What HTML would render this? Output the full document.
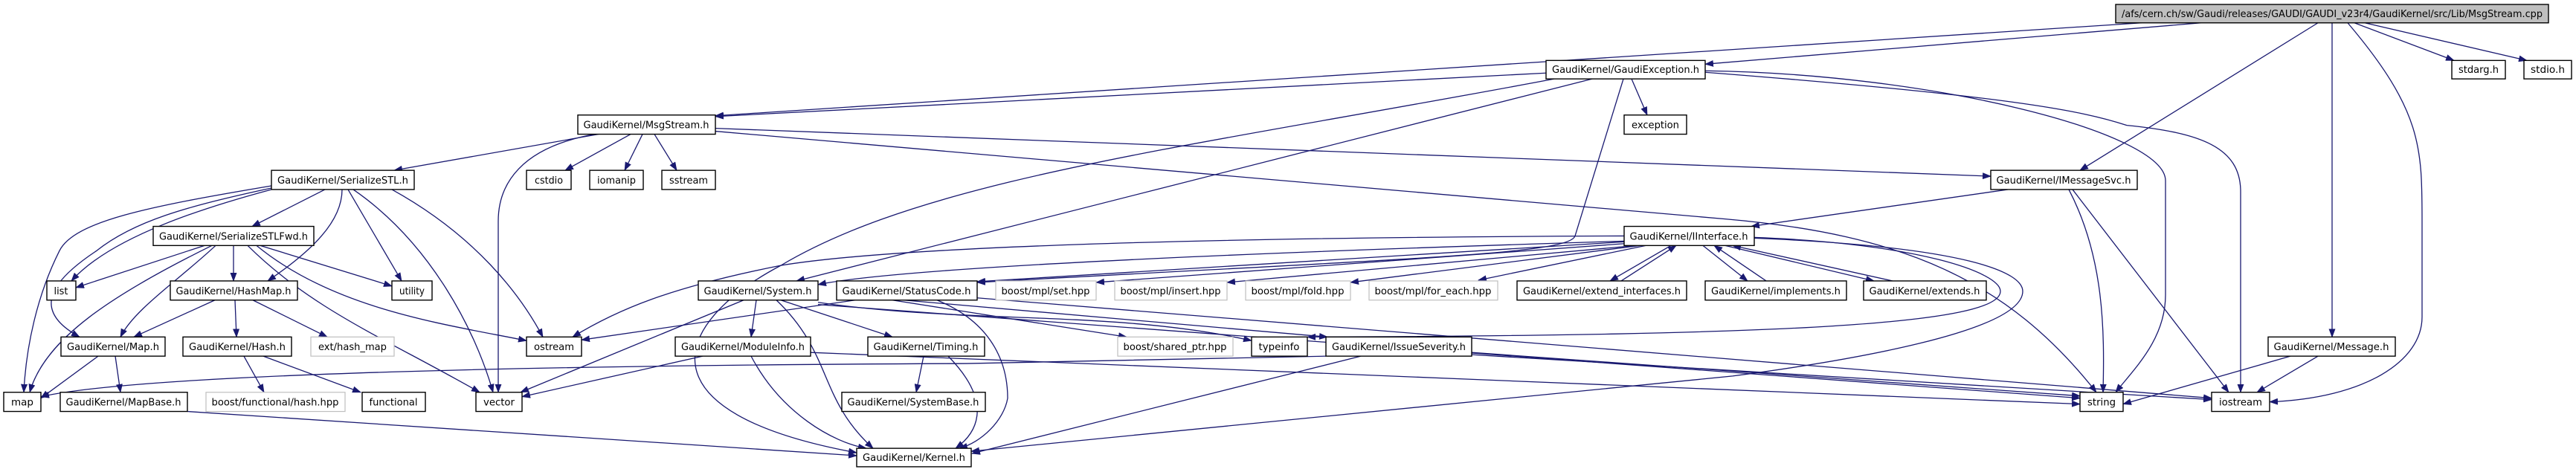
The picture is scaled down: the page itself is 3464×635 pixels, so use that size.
<!DOCTYPE html>
<html><head><meta charset="utf-8"><style>
html,body{margin:0;padding:0;background:#fff;}
svg{display:block;}
text{font-family:"DejaVu Sans","Liberation Sans",sans-serif;font-size:13px;fill:#000;}
.e{fill:none;stroke:#191970;stroke-width:1.3;}
.n{fill:#fff;stroke:#000;stroke-width:1.4;}
.g{fill:#fff;stroke:#bfbfbf;stroke-width:1.2;}
</style></head><body>
<svg width="3464" height="635" viewBox="0 0 3464 635" xmlns="http://www.w3.org/2000/svg">
<defs>
<marker id="a" markerWidth="12" markerHeight="9" refX="11" refY="4.5" orient="auto" markerUnits="userSpaceOnUse">
<path d="M0,0 L12,4.5 L0,9 Z" fill="#191970"/></marker>
</defs>
<g transform="scale(1,0.992)">
<g class="e" marker-end="url(#a)">
<!-- cpp -->
<path d="M2960,31 L2293,87"/>
<path d="M2880,31 L962,157"/>
<path d="M3117,31 L2797,231"/>
<path d="M3136,31 L3136,457"/>
<path d="M3157,31 C3257,150 3257,200 3257,300 L3257,430 C3257,490 3180,540 3052,545"/>
<path d="M3166,31 L3300,82"/>
<path d="M3180,31 L3398,82"/>
<!-- GaudiException -->
<path d="M2079,99 L962,158"/>
<path d="M2194,107 L2215,156"/>
<path d="M2293,96 C2600,100 2912,180 2912,245 L2912,400 C2912,460 2870,500 2845,532"/>
<path d="M2293,98 C2700,130 2800,150 2860,170 C2960,180 3013,200 3013,260 L3013,532"/>
<path d="M2090,107 C1600,200 1250,240 1050,360 C900,440 860,560 1152,614"/>
<path d="M2141,107 L1071,381"/>
<path d="M2183,107 L2118,320 C2110,345 1900,350 1314,383"/>
<!-- MsgStream -->
<path d="M805,182 L530,231"/>
<path d="M848,182 L760,231"/>
<path d="M864,182 L840,231"/>
<path d="M880,182 L910,231"/>
<path d="M800,182 C700,200 670,250 670,300 L670,532"/>
<path d="M962,174 L2677,239"/>
<path d="M962,178 L2320,297 C2560,318 2700,380 2819,532"/>
<!-- SerializeSTL -->
<path d="M365,252 C200,280 100,300 80,340 C50,400 35,470 32,532"/>
<path d="M365,255 C250,280 180,300 130,340 C70,380 40,420 107,457"/>
<path d="M365,257 C280,280 150,320 96,381"/>
<path d="M437,257 L339,307"/>
<path d="M460,257 C460,300 420,340 360,381"/>
<path d="M468,257 L540,381"/>
<path d="M475,257 C580,330 640,450 663,532"/>
<path d="M527,257 C640,320 700,400 730,457"/>
<!-- SerializeSTLFwd -->
<path d="M275,333 L102,390"/>
<path d="M285,333 C150,400 60,460 40,532"/>
<path d="M290,333 C240,380 180,420 162,457"/>
<path d="M314,333 L314,381"/>
<path d="M350,333 L527,388"/>
<path d="M333,333 C420,420 520,460 645,532"/>
<path d="M345,333 C450,420 600,440 708,462"/>
<!-- HashMap, Map, Hash, MapBase -->
<path d="M289,407 L180,457"/>
<path d="M316,407 L318,457"/>
<path d="M340,407 L440,457"/>
<path d="M132,483 L55,540"/>
<path d="M155,483 L162,532"/>
<path d="M328,483 L355,532"/>
<path d="M354,483 L485,532"/>
<path d="M252,558 L1152,618"/>
<!-- IMessageSvc -->
<path d="M2700,257 L2355,307"/>
<path d="M2782,257 C2830,350 2830,450 2828,532"/>
<path d="M2787,257 L2997,532"/>
<!-- IInterface -->
<path d="M2184,320 C1600,322 1200,335 1050,360 C900,390 830,420 770,457"/>
<path d="M2184,327 C1600,345 1200,365 1100,386"/>
<path d="M2184,328 L1314,382"/>
<path d="M2190,330 L1474,383"/>
<path d="M2200,333 L1650,383"/>
<path d="M2205,333 L1816,383"/>
<path d="M2213,333 L1988,380"/>
<path d="M2247,333 L2165,381"/>
<path d="M2180,381 L2254,333"/>
<path d="M2290,333 L2350,381"/>
<path d="M2375,381 L2305,333"/>
<path d="M2320,333 L2520,381"/>
<path d="M2545,381 L2330,333"/>
<path d="M2359,322 C2580,330 2690,370 2690,395 C2690,440 2400,455 1758,457"/>
<path d="M2359,323 C2650,335 2720,370 2720,395 C2720,450 2480,490 2330,510 L1306,612"/>
<!-- System -->
<path d="M1000,407 L700,532"/>
<path d="M1017,407 L1010,457"/>
<path d="M1050,407 L1200,457"/>
<path d="M1044,407 C1120,480 1100,540 1174,608"/>
<path d="M1100,410 C1300,440 1500,420 1683,462"/>
<path d="M1100,413 L2797,540"/>
<!-- StatusCode -->
<path d="M1150,407 L782,461"/>
<path d="M1200,407 L1515,457"/>
<path d="M1215,407 L1785,457"/>
<path d="M1260,407 C1340,440 1355,500 1355,540 C1350,570 1320,600 1290,608"/>
<path d="M1314,404 L2974,540"/>
<!-- Timing, ModuleInfo -->
<path d="M1242,483 L1232,532"/>
<path d="M1275,483 C1340,550 1310,590 1285,608"/>
<path d="M1010,483 C1050,560 1120,600 1165,608"/>
<path d="M945,483 L702,538"/>
<path d="M1090,478 L2797,548"/>
<!-- IssueSeverity -->
<path d="M1830,483 L1307,615"/>
<path d="M1979,478 L2797,537"/>
<path d="M1979,481 L2974,542"/>
<path d="M1783,483 L1300,493 C800,495 200,505 55,538"/>
<!-- Message -->
<path d="M3080,483 L2855,548"/>
<path d="M3117,483 L3035,532"/>
</g>

<!-- nodes -->
<rect x="2845" y="6" width="582" height="25" fill="#bfbfbf" stroke="#000" stroke-width="1.4"/>
<text x="3136" y="23" text-anchor="middle" textLength="566" lengthAdjust="spacingAndGlyphs">/afs/cern.ch/sw/Gaudi/releases/GAUDI/GAUDI_v23r4/GaudiKernel/src/Lib/MsgStream.cpp</text>

<g>
<rect class="n" x="2079" y="82" width="214" height="25"/><text x="2186" y="99" text-anchor="middle" textLength="198" lengthAdjust="spacingAndGlyphs">GaudiKernel/GaudiException.h</text>
<rect class="n" x="3297" y="82" width="72" height="25"/><text x="3333" y="99" text-anchor="middle" textLength="54" lengthAdjust="spacingAndGlyphs">stdarg.h</text>
<rect class="n" x="3394" y="82" width="64" height="25"/><text x="3426" y="99" text-anchor="middle" textLength="46" lengthAdjust="spacingAndGlyphs">stdio.h</text>

<rect class="n" x="777" y="156" width="185" height="26"/><text x="869" y="174" text-anchor="middle" textLength="169" lengthAdjust="spacingAndGlyphs">GaudiKernel/MsgStream.h</text>
<rect class="n" x="2184" y="156" width="84" height="26"/><text x="2226" y="174" text-anchor="middle" textLength="64" lengthAdjust="spacingAndGlyphs">exception</text>

<rect class="n" x="365" y="231" width="192" height="26"/><text x="461" y="249" text-anchor="middle" textLength="176" lengthAdjust="spacingAndGlyphs">GaudiKernel/SerializeSTL.h</text>
<rect class="n" x="708" y="231" width="60" height="26"/><text x="738" y="249" text-anchor="middle" textLength="38" lengthAdjust="spacingAndGlyphs">cstdio</text>
<rect class="n" x="793" y="231" width="72" height="26"/><text x="829" y="249" text-anchor="middle" textLength="52" lengthAdjust="spacingAndGlyphs">iomanip</text>
<rect class="n" x="890" y="231" width="72" height="26"/><text x="926" y="249" text-anchor="middle" textLength="52" lengthAdjust="spacingAndGlyphs">sstream</text>
<rect class="n" x="2677" y="231" width="197" height="26"/><text x="2775" y="249" text-anchor="middle" textLength="181" lengthAdjust="spacingAndGlyphs">GaudiKernel/IMessageSvc.h</text>

<rect class="n" x="206" y="307" width="216" height="26"/><text x="314" y="325" text-anchor="middle" textLength="200" lengthAdjust="spacingAndGlyphs">GaudiKernel/SerializeSTLFwd.h</text>
<rect class="n" x="2184" y="307" width="175" height="26"/><text x="2271" y="325" text-anchor="middle" textLength="159" lengthAdjust="spacingAndGlyphs">GaudiKernel/IInterface.h</text>

<rect class="n" x="63" y="381" width="39" height="26"/><text x="82" y="399" text-anchor="middle" textLength="19" lengthAdjust="spacingAndGlyphs">list</text>
<rect class="n" x="229" y="381" width="171" height="26"/><text x="314" y="399" text-anchor="middle" textLength="155" lengthAdjust="spacingAndGlyphs">GaudiKernel/HashMap.h</text>
<rect class="n" x="527" y="381" width="54" height="26"/><text x="554" y="399" text-anchor="middle" textLength="34" lengthAdjust="spacingAndGlyphs">utility</text>
<rect class="n" x="939" y="381" width="161" height="26"/><text x="1019" y="399" text-anchor="middle" textLength="145" lengthAdjust="spacingAndGlyphs">GaudiKernel/System.h</text>
<rect class="n" x="1125" y="381" width="189" height="26"/><text x="1219" y="399" text-anchor="middle" textLength="173" lengthAdjust="spacingAndGlyphs">GaudiKernel/StatusCode.h</text>
<rect class="g" x="1339" y="381" width="135" height="26"/><text x="1406" y="399" text-anchor="middle" textLength="119" lengthAdjust="spacingAndGlyphs">boost/mpl/set.hpp</text>
<rect class="g" x="1499" y="381" width="151" height="26"/><text x="1574" y="399" text-anchor="middle" textLength="135" lengthAdjust="spacingAndGlyphs">boost/mpl/insert.hpp</text>
<rect class="g" x="1675" y="381" width="141" height="26"/><text x="1745" y="399" text-anchor="middle" textLength="125" lengthAdjust="spacingAndGlyphs">boost/mpl/fold.hpp</text>
<rect class="g" x="1841" y="381" width="173" height="26"/><text x="1927" y="399" text-anchor="middle" textLength="157" lengthAdjust="spacingAndGlyphs">boost/mpl/for_each.hpp</text>
<rect class="n" x="2040" y="381" width="228" height="26"/><text x="2154" y="399" text-anchor="middle" textLength="212" lengthAdjust="spacingAndGlyphs">GaudiKernel/extend_interfaces.h</text>
<rect class="n" x="2293" y="381" width="190" height="26"/><text x="2388" y="399" text-anchor="middle" textLength="174" lengthAdjust="spacingAndGlyphs">GaudiKernel/implements.h</text>
<rect class="n" x="2506" y="381" width="165" height="26"/><text x="2588" y="399" text-anchor="middle" textLength="149" lengthAdjust="spacingAndGlyphs">GaudiKernel/extends.h</text>

<rect class="n" x="82" y="457" width="140" height="26"/><text x="152" y="475" text-anchor="middle" textLength="124" lengthAdjust="spacingAndGlyphs">GaudiKernel/Map.h</text>
<rect class="n" x="246" y="457" width="146" height="26"/><text x="319" y="475" text-anchor="middle" textLength="130" lengthAdjust="spacingAndGlyphs">GaudiKernel/Hash.h</text>
<rect class="g" x="418" y="457" width="112" height="26"/><text x="474" y="475" text-anchor="middle" textLength="92" lengthAdjust="spacingAndGlyphs">ext/hash_map</text>
<rect class="n" x="708" y="457" width="74" height="26"/><text x="745" y="475" text-anchor="middle" textLength="54" lengthAdjust="spacingAndGlyphs">ostream</text>
<rect class="n" x="908" y="457" width="182" height="26"/><text x="999" y="475" text-anchor="middle" textLength="166" lengthAdjust="spacingAndGlyphs">GaudiKernel/ModuleInfo.h</text>
<rect class="n" x="1167" y="457" width="157" height="26"/><text x="1245" y="475" text-anchor="middle" textLength="141" lengthAdjust="spacingAndGlyphs">GaudiKernel/Timing.h</text>
<rect class="g" x="1503" y="457" width="155" height="26"/><text x="1580" y="475" text-anchor="middle" textLength="139" lengthAdjust="spacingAndGlyphs">boost/shared_ptr.hpp</text>
<rect class="n" x="1683" y="457" width="75" height="26"/><text x="1720" y="475" text-anchor="middle" textLength="55" lengthAdjust="spacingAndGlyphs">typeinfo</text>
<rect class="n" x="1783" y="457" width="196" height="26"/><text x="1881" y="475" text-anchor="middle" textLength="180" lengthAdjust="spacingAndGlyphs">GaudiKernel/IssueSeverity.h</text>
<rect class="n" x="3050" y="457" width="171" height="26"/><text x="3135" y="475" text-anchor="middle" textLength="155" lengthAdjust="spacingAndGlyphs">GaudiKernel/Message.h</text>

<rect class="n" x="5" y="532" width="50" height="26"/><text x="30" y="550" text-anchor="middle" textLength="30" lengthAdjust="spacingAndGlyphs">map</text>
<rect class="n" x="81" y="532" width="171" height="26"/><text x="166" y="550" text-anchor="middle" textLength="155" lengthAdjust="spacingAndGlyphs">GaudiKernel/MapBase.h</text>
<rect class="g" x="277" y="532" width="187" height="26"/><text x="370" y="550" text-anchor="middle" textLength="171" lengthAdjust="spacingAndGlyphs">boost/functional/hash.hpp</text>
<rect class="n" x="487" y="532" width="85" height="26"/><text x="529" y="550" text-anchor="middle" textLength="65" lengthAdjust="spacingAndGlyphs">functional</text>
<rect class="n" x="640" y="532" width="62" height="26"/><text x="671" y="550" text-anchor="middle" textLength="42" lengthAdjust="spacingAndGlyphs">vector</text>
<rect class="n" x="1132" y="532" width="193" height="26"/><text x="1228" y="550" text-anchor="middle" textLength="177" lengthAdjust="spacingAndGlyphs">GaudiKernel/SystemBase.h</text>
<rect class="n" x="2797" y="532" width="58" height="26"/><text x="2826" y="550" text-anchor="middle" textLength="38" lengthAdjust="spacingAndGlyphs">string</text>
<rect class="n" x="2974" y="532" width="78" height="26"/><text x="3013" y="550" text-anchor="middle" textLength="58" lengthAdjust="spacingAndGlyphs">iostream</text>

<rect class="n" x="1152" y="608" width="154" height="25"/><text x="1229" y="625" text-anchor="middle" textLength="138" lengthAdjust="spacingAndGlyphs">GaudiKernel/Kernel.h</text>
</g>
</g>
</svg>
</body></html>
